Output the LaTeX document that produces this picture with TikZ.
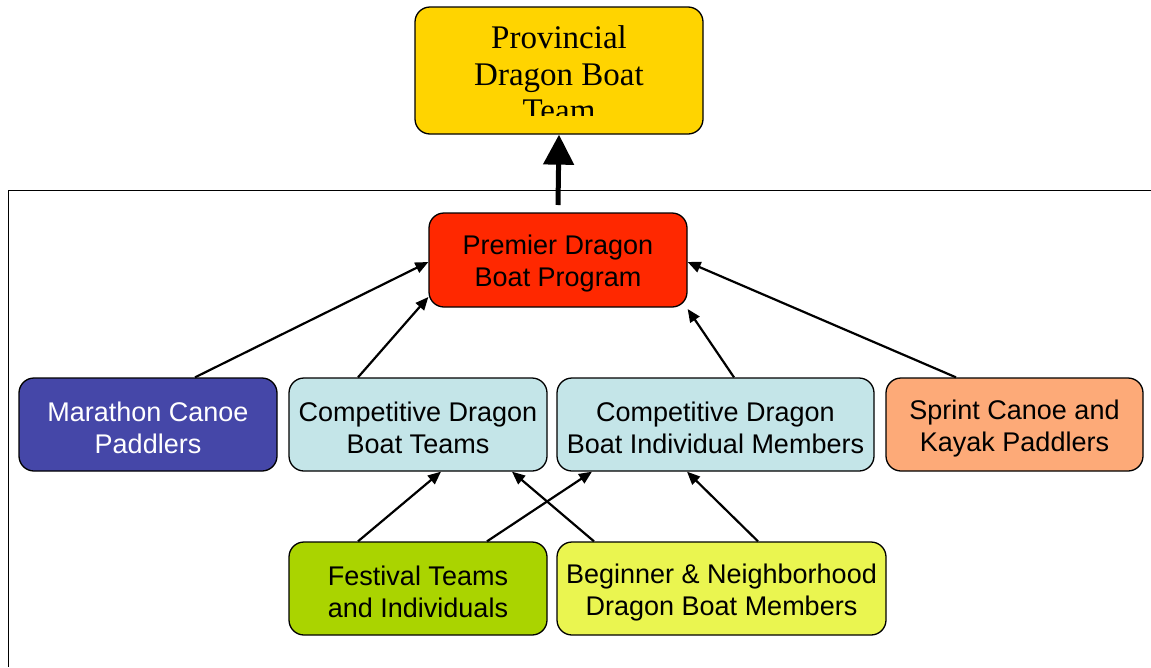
\documentclass[tikz,border=0pt]{standalone}
\usepackage{fontspec}
\setmainfont{Liberation Serif}
\setsansfont{Liberation Sans}
\usetikzlibrary{arrows.meta,calc}
\definecolor{cgold}{RGB}{255,212,0}
\definecolor{cred}{RGB}{255,40,0}
\definecolor{cblue}{RGB}{69,71,168}
\definecolor{ccyan}{RGB}{196,229,232}
\definecolor{corange}{RGB}{253,170,120}
\definecolor{cgreen}{RGB}{170,212,0}
\definecolor{cyellow}{RGB}{234,245,80}
\newcommand\topstr{\rule{0pt}{27pt}}
\newcommand\botstr{\rule[-2pt]{0pt}{2pt}}
\tikzset{
  box/.style={draw=black, line width=1.3pt, rounded corners=15pt, inner sep=0pt, align=center,
    font=\sffamily\fontsize{27}{32}\selectfont},
  link/.style={line width=2.2pt, -{Triangle[length=13pt,width=11pt]}},
  biglink/.style={line width=5pt, -{Triangle[length=30pt,width=30pt]}}
}
\begin{document}
\begin{tikzpicture}[x=1pt,y=-1pt]
\useasboundingbox (0,0) rectangle (1151,667);
% frame
\draw[line width=1pt] (1151,190) -- (8,190) -- (8,667);
% top box
\node[box, fill=cgold, minimum width=288pt, minimum height=127pt] (top) at (559,70.5) {};
\begin{scope}
\clip (415,7) rectangle (703,115);
\node[align=center, inner sep=0pt, font=\rmfamily\fontsize{33}{36.5}\selectfont] (toptext) at (559,74) {Provincial\\Dragon Boat\\Team};
\end{scope}
% premier
\node[box, fill=cred, minimum width=258pt, minimum height=94pt] (prem) at (558,260) {\topstr Premier Dragon\\Boat Program\botstr};
% row 2
\node[box, fill=cblue, text=white, minimum width=258pt, minimum height=93pt] (mar) at (148,424.5) {\topstr Marathon Canoe\\Paddlers\botstr};
\node[box, fill=ccyan, minimum width=258pt, minimum height=93pt] (cteam) at (418,424.5) {\topstr Competitive Dragon\\Boat Teams\botstr};
\node[box, fill=ccyan, minimum width=317pt, minimum height=93pt] (cind) at (715.5,424.5) {\topstr Competitive Dragon\\Boat Individual Members\botstr};
\node[box, fill=corange, minimum width=257pt, minimum height=93pt] (spr) at (1014.5,424.5) {\topstr Sprint Canoe and\\Kayak Paddlers\botstr};
% row 3
\node[box, fill=cgreen, minimum width=258pt, minimum height=93pt] (fest) at (418,588.5) {\topstr Festival Teams\\and Individuals\botstr};
\node[box, fill=cyellow, minimum width=329pt, minimum height=93pt] (beg) at (721.5,588.5) {\topstr Beginner \& Neighborhood\\Dragon Boat Members\botstr};
% arrows
\coordinate (bigstart) at (558,205);
\draw[biglink] (bigstart) -- (top.south);
\draw[link] (195,0 |- mar.north) -- (prem.west |- 0,262);
\draw[link] (358,0 |- cteam.north) -- (prem.west |- 0,297);
\draw[link] (734,0 |- cind.north) -- (prem.east |- 0,309);
\draw[link] (956,0 |- spr.north) -- (prem.east |- 0,262);
\draw[link] (358,0 |- fest.north) -- (441,0 |- cteam.south);
\draw[link] (487,0 |- fest.north) -- (592,0 |- cind.south);
\draw[link] (594,0 |- beg.north) -- (512,0 |- cteam.south);
\draw[link] (758,0 |- beg.north) -- (687,0 |- cind.south);
\end{tikzpicture}
\end{document}
